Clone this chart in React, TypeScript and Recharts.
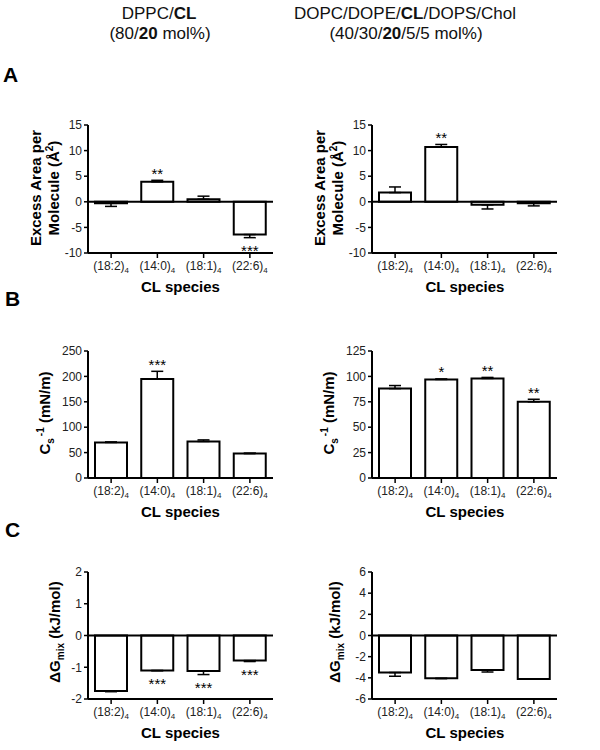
import React from 'react';
import { BarChart, Bar, XAxis, YAxis, ErrorBar, ReferenceLine, ReferenceDot } from 'recharts';

const categories = ['(18:2)', '(14:0)', '(18:1)', '(22:6)'];
const categorySub = '4';

const areaDPPC = [-0.3, 3.9, 0.5, -6.4];
const areaDPPCErr = [0.6, 0.3, 0.6, 0.6];
const areaDPPCSig = ['', '**', '', '***'];

const areaMix = [1.8, 10.7, -0.6, -0.3];
const areaMixErr = [1.1, 0.5, 0.8, 0.5];
const areaMixSig = ['', '**', '', ''];

const csDPPC = [70, 195, 72, 48];
const csDPPCErr = [1, 15, 3, 1];
const csDPPCSig = ['', '***', '', ''];

const csMix = [88, 97, 98, 75];
const csMixErr = [3, 0.5, 1, 2.5];
const csMixSig = ['', '*', '**', '**'];

const gDPPC = [-1.75, -1.1, -1.12, -0.79];
const gDPPCErr = [0.02, 0.01, 0.11, 0.03];
const gDPPCSig = ['', '***', '***', '***'];

const gMix = [-3.5, -4.05, -3.27, -4.1];
const gMixErr = [0.35, 0.02, 0.18, 0.03];
const gMixSig = ['', '', '', ''];

const areaTicks = [-10, -5, 0, 5, 10, 15];
const csDPPCTicks = [0, 50, 100, 150, 200, 250];
const csMixTicks = [0, 25, 50, 75, 100, 125];
const gDPPCTicks = [-2, -1, 0, 1, 2];
const gMixTicks = [-6, -4, -2, 0, 2, 4, 6];

const FONT = '"Liberation Sans", Arial, Helvetica, sans-serif';

const CatTick = (props: any) => {
  const { x, y, payload } = props;
  return (
    <text x={x} y={y} dy={10} textAnchor="middle" fontSize={12} fill="#222" fontFamily={FONT}>
      {payload.value}
      <tspan fontSize={8} dy={3}>{categorySub}</tspan>
    </text>
  );
};

type PanelProps = {
  left: number;
  top: number;
  height: number;
  mt: number;
  values: number[];
  errors: number[];
  sig: string[];
  ticks: number[];
  zeroLine: boolean;
};

function Panel({ left, top, height, mt, values, errors, sig, ticks, zeroLine }: PanelProps) {
  const data = categories.map((c, i) => ({ cat: c, v: values[i], e: errors[i] }));
  const domain = [ticks[0], ticks[ticks.length - 1]];
  return (
    <div style={{ position: 'absolute', left, top }}>
      <BarChart width={300} height={height} data={data} margin={{ top: mt, right: 27, bottom: 0, left: 0 }}>
        <XAxis
          dataKey="cat"
          interval={0}
          height={30}
          tick={<CatTick />}
          tickSize={5}
          axisLine={{ stroke: '#000', strokeWidth: 2 }}
          tickLine={{ stroke: '#000', strokeWidth: 1.5 }}
        />
        <YAxis
          type="number"
          width={88}
          domain={domain}
          ticks={ticks}
          interval={0}
          tickSize={4}
          tickMargin={2}
          tick={{ fontSize: 12, fill: '#222' }}
          axisLine={{ stroke: '#000', strokeWidth: 2 }}
          tickLine={{ stroke: '#000', strokeWidth: 1.5 }}
        />
        {zeroLine && <ReferenceLine y={0} stroke="#000" strokeWidth={2} />}
        <Bar dataKey="v" fill="#fff" stroke="#000" strokeWidth={2} barSize={32} isAnimationActive={false}>
          <ErrorBar
            dataKey={(d: any) => (d.v >= 0 ? [0, d.e] : [d.e, 0])}
            width={6}
            stroke="#000"
            strokeWidth={1.5}
          />
        </Bar>
        {sig.map((s, i) =>
          s ? (
            <ReferenceDot
              key={i}
              x={categories[i]}
              y={values[i] >= 0 ? values[i] + errors[i] : values[i] - errors[i]}
              r={0}
              fill="none"
              stroke="none"
              label={{
                value: s,
                position: values[i] >= 0 ? 'top' : 'bottom',
                offset: values[i] >= 0 ? 1.5 : 7.5,
                fontSize: 15,
                fill: '#000',
              }}
            />
          ) : null
        )}
      </BarChart>
    </div>
  );
}

export default function App() {
  return (
    <div style={{ position: 'absolute', left: 0, top: 0, width: 600, height: 750, background: '#fff', fontFamily: FONT }}>
      <Panel left={0} top={100} height={183} mt={25} values={areaDPPC} errors={areaDPPCErr} sig={areaDPPCSig} ticks={areaTicks} zeroLine />
      <Panel left={284} top={100} height={183} mt={25} values={areaMix} errors={areaMixErr} sig={areaMixSig} ticks={areaTicks} zeroLine />
      <Panel left={0} top={330} height={178} mt={21} values={csDPPC} errors={csDPPCErr} sig={csDPPCSig} ticks={csDPPCTicks} zeroLine={false} />
      <Panel left={284} top={330} height={178} mt={21} values={csMix} errors={csMixErr} sig={csMixSig} ticks={csMixTicks} zeroLine={false} />
      <Panel left={0} top={550} height={179} mt={22} values={gDPPC} errors={gDPPCErr} sig={gDPPCSig} ticks={gDPPCTicks} zeroLine />
      <Panel left={284} top={550} height={179} mt={22} values={gMix} errors={gMixErr} sig={gMixSig} ticks={gMixTicks} zeroLine />

      <svg width={600} height={750} style={{ position: 'absolute', left: 0, top: 0, pointerEvents: 'none' }} fontFamily={FONT}>
        {/* column titles */}
        <text x={159} y={19} textAnchor="middle" fontSize={17} fill="#111">
          DPPC/<tspan fontWeight="bold">CL</tspan>
        </text>
        <text x={160} y={39} textAnchor="middle" fontSize={17} fill="#111">
          (80/<tspan fontWeight="bold">20</tspan> mol%)
        </text>
        <text x={405} y={19} textAnchor="middle" fontSize={17} fill="#111">
          DOPC/DOPE/<tspan fontWeight="bold">CL</tspan>/DOPS/Chol
        </text>
        <text x={406} y={39} textAnchor="middle" fontSize={17} fill="#111">
          (40/30/<tspan fontWeight="bold">20</tspan>/5/5 mol%)
        </text>

        {/* panel letters */}
        <text x={3} y={82} fontSize={21} fontWeight="bold" fill="#000">A</text>
        <text x={5} y={306} fontSize={21} fontWeight="bold" fill="#000">B</text>
        <text x={5} y={537} fontSize={21} fontWeight="bold" fill="#000">C</text>

        {/* A y labels */}
        {[88, 372].map((ax) => (
          <g key={'a' + ax}>
            <text transform={`translate(${ax - 47},188) rotate(-90)`} textAnchor="middle" fontSize={15} fontWeight="bold" fill="#000">
              Excess Area per
            </text>
            <text transform={`translate(${ax - 29},188) rotate(-90)`} textAnchor="middle" fontSize={15} fontWeight="bold" fill="#000">
              Molecule (Å<tspan fontSize={10} dy={-6}>2</tspan><tspan dy={6}>)</tspan>
            </text>
          </g>
        ))}

        {/* B y labels */}
        {[88, 372].map((ax) => (
          <text key={'b' + ax} transform={`translate(${ax - 38.5},413) rotate(-90)`} textAnchor="middle" fontSize={15} fontWeight="bold" fill="#000">
            C<tspan fontSize={10} dy={4}>s</tspan>
            <tspan fontSize={10} dx={2} dy={-10}>-1</tspan>
            <tspan dy={6}> (mN/m)</tspan>
          </text>
        ))}

        {/* C y labels */}
        {[59.5, 339.5].map((bx) => (
          <text key={'c' + bx} transform={`translate(${bx},632) rotate(-90)`} textAnchor="middle" fontSize={15} fontWeight="bold" fill="#000">
            ΔG<tspan fontSize={10} dy={4}>mix</tspan>
            <tspan dy={-4}> (kJ/mol)</tspan>
          </text>
        ))}

        {/* x labels */}
        {[292, 517, 738].map((by) =>
          [180.5, 465].map((cx) => (
            <text key={by + '-' + cx} x={cx} y={by} textAnchor="middle" fontSize={15} fontWeight="bold" fill="#000">
              CL species
            </text>
          ))
        )}
      </svg>
    </div>
  );
}
